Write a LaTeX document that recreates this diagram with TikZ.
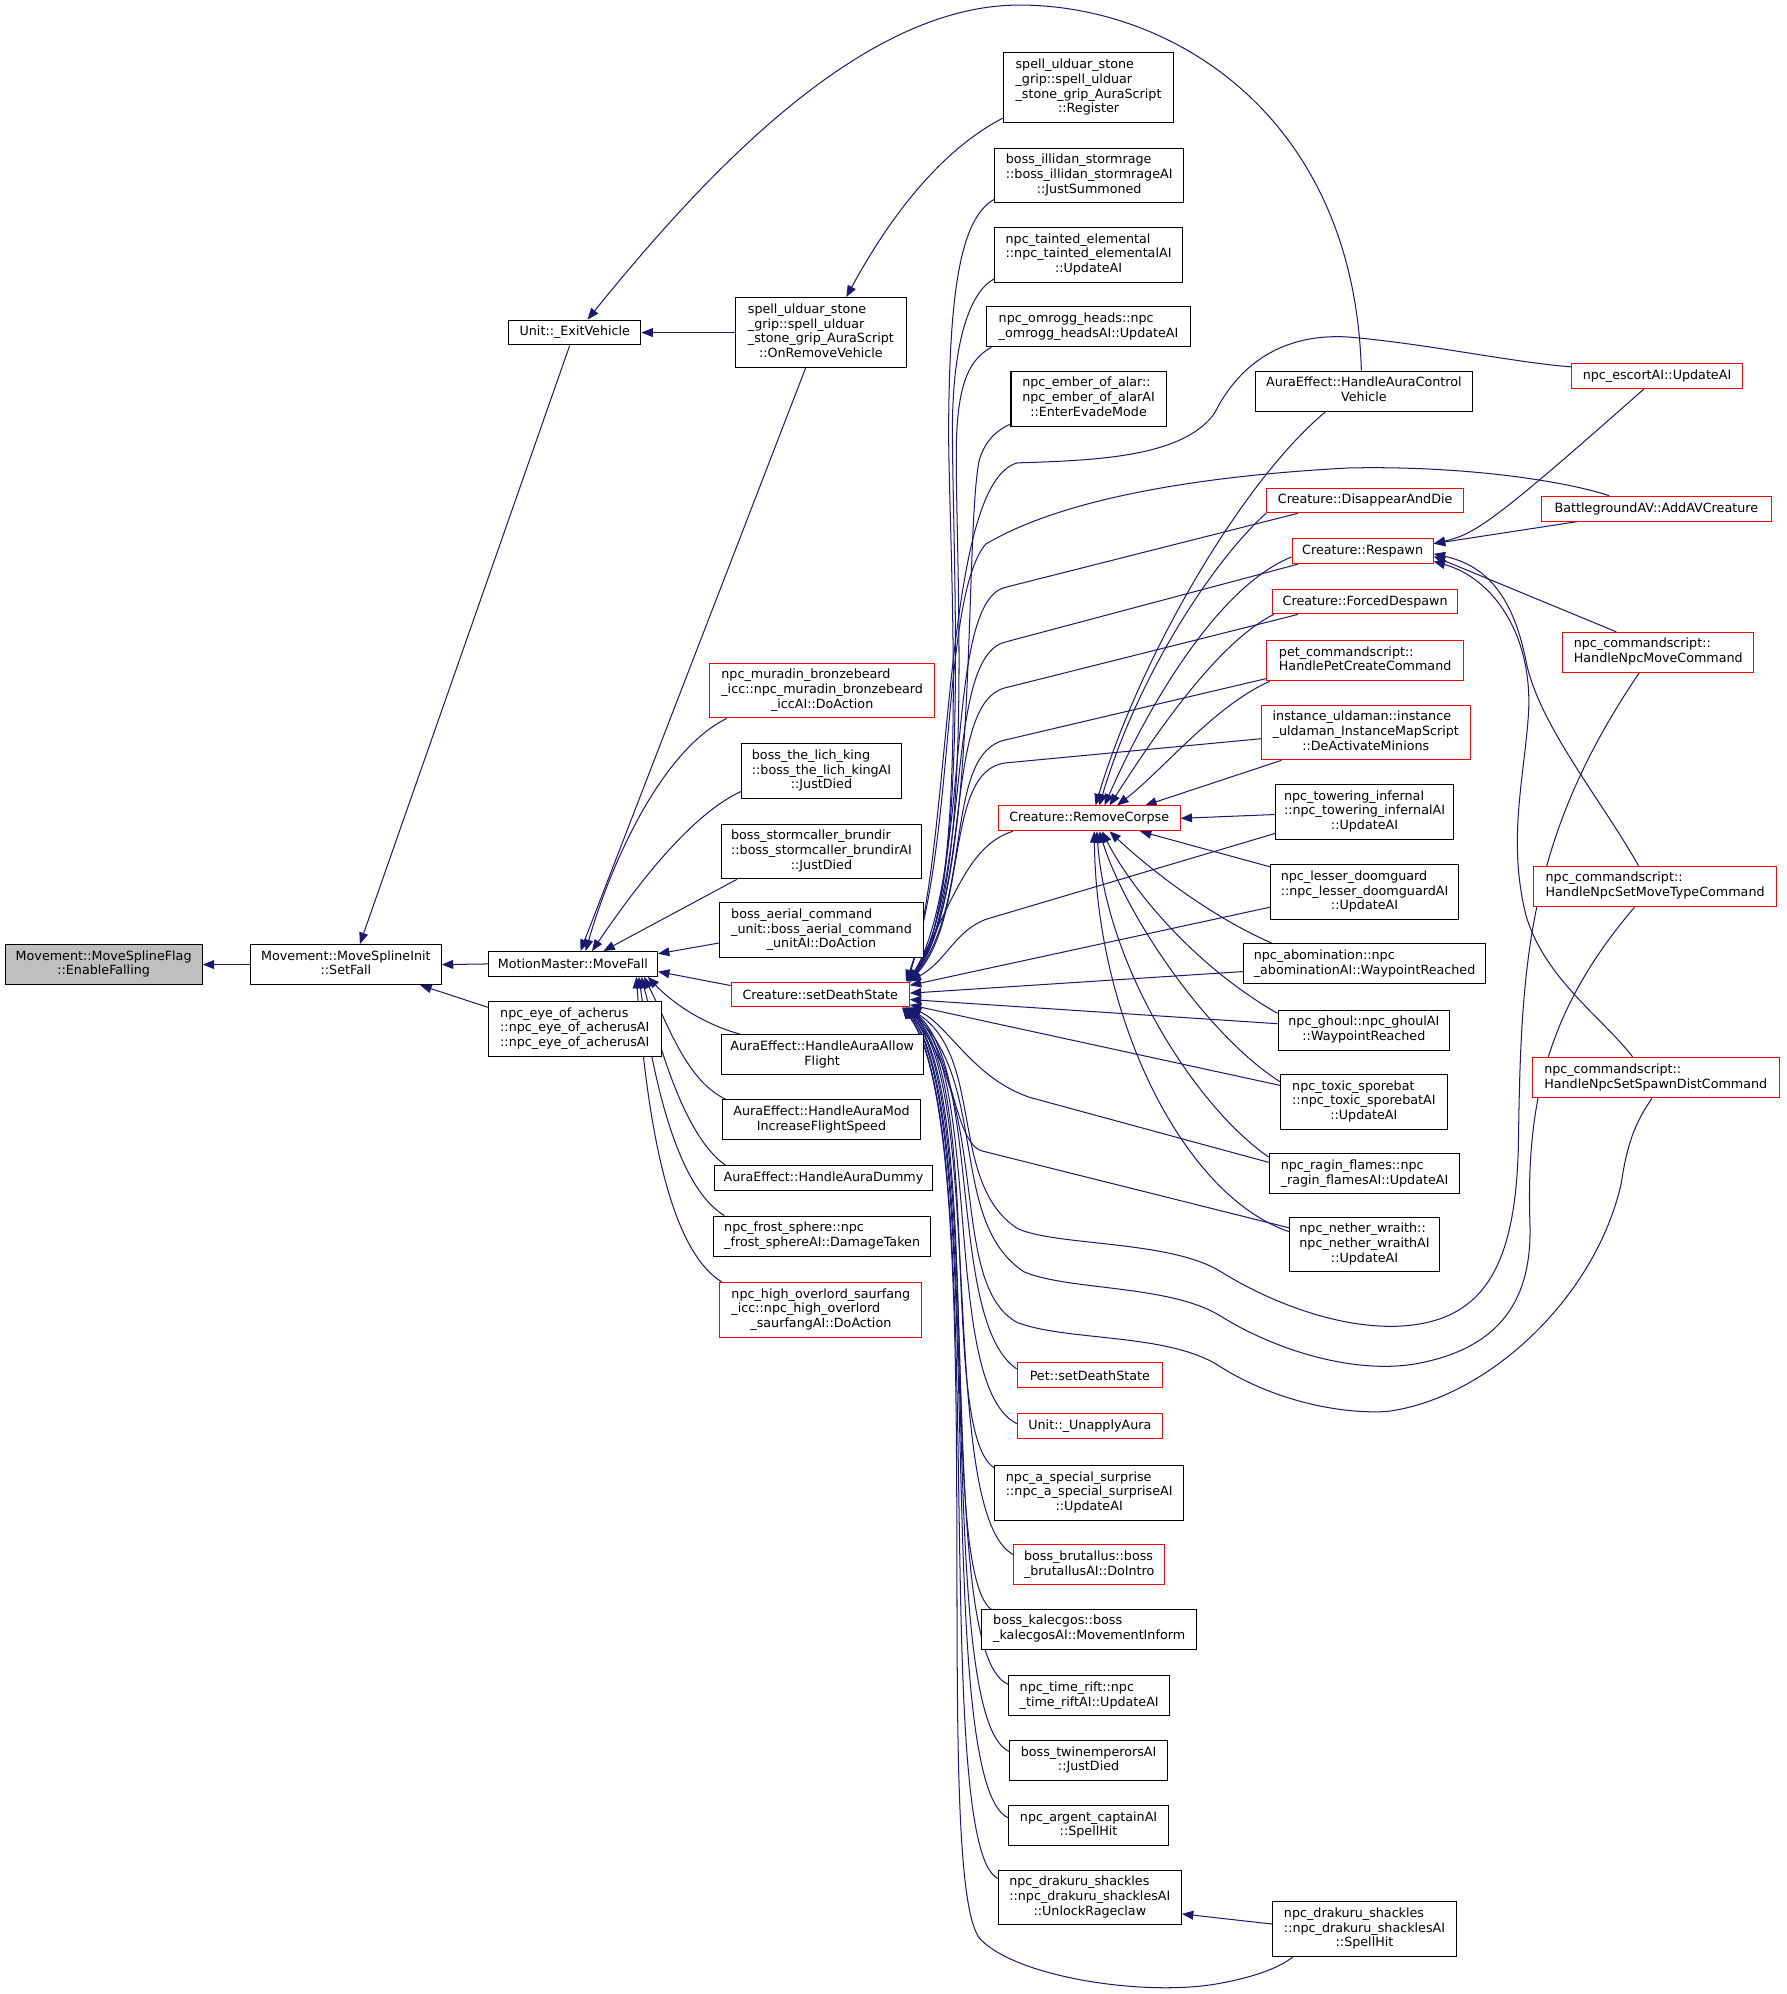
\documentclass[tikz,border=0pt]{standalone}
\usepackage{fontspec}
\setmainfont{DejaVu Sans}
\usetikzlibrary{arrows.meta}
\definecolor{DxEdge}{RGB}{25,25,112}
\definecolor{DxRed}{RGB}{255,0,0}
\definecolor{DxGray}{RGB}{191,191,191}
\pgfdeclarelayer{edges}
\pgfsetlayers{edges,main}
\newcommand{\lns}[1]{\begin{tabular}{@{}l@{}}#1\end{tabular}}
\newcommand{\cln}[1]{\multicolumn{1}{@{}c@{}}{#1}}

\begin{document}
\begin{tikzpicture}[x=1pt, y=-1pt,
          fn/.style={rectangle, draw=black, fill=white, line width=0.8pt,
                     inner sep=0pt, font=\fontsize{10}{11.6}\selectfont},
          fnr/.style={fn, draw=DxRed},
          h1/.style={minimum height=19.5pt},
          h2/.style={minimum height=31.5pt},
          h3/.style={minimum height=43pt},
          h4/.style={minimum height=55pt},
          call/.style={draw=DxEdge, line width=0.8pt, {Triangle[length=9pt, width=7pt]}-}
        ]
        \useasboundingbox (0,0) rectangle (1405,1568);

        % columns 0 - 2
        \node[fn, h2, fill=DxGray, minimum width=155pt] (root) at (81.5, 758.5)
              {\lns{Movement::MoveSplineFlag\\ \cln{::EnableFalling}}};
        \node[fn, h2, minimum width=150pt] (setfall) at (272, 758.5)
              {\lns{Movement::MoveSplineInit\\ \cln{::SetFall}}};
        \node[fn, h1, minimum width=104pt] (exitveh) at (452, 261.5) {Unit::\_ExitVehicle};
        \node[fn, h1, minimum width=133pt] (movefall) at (450.5, 758) {MotionMaster::MoveFall};
        \node[fn, h3, minimum width=136pt] (eyeach) at (452, 809)
              {\lns{npc\_eye\_of\_acherus\\::npc\_eye\_of\_acherusAI\\ \cln{::npc\_eye\_of\_acherusAI}}};

        % column 3
        \node[fn, h4, minimum width=135pt] (onremove) at (645.5, 261.5)
              {\lns{spell\_ulduar\_stone\\\_grip::spell\_ulduar\\\_stone\_grip\_AuraScript\\ \cln{::OnRemoveVehicle}}};
        \node[fnr, h3, minimum width=177pt] (muradin) at (646.5, 543)
              {\lns{npc\_muradin\_bronzebeard\\\_icc::npc\_muradin\_bronzebeard\\ \cln{\_iccAI::DoAction}}};
        \node[fn, h3, minimum width=126pt] (lichking) at (646, 606.5)
              {\lns{boss\_the\_lich\_king\\::boss\_the\_lich\_kingAI\\ \cln{::JustDied}}};
        \node[fn, h3, minimum width=158pt] (brundir) at (646, 669.5)
              {\lns{boss\_stormcaller\_brundir\\::boss\_stormcaller\_brundirAI\\ \cln{::JustDied}}};
        \node[fn, h3, minimum width=160pt] (aerial) at (646, 731.5)
              {\lns{boss\_aerial\_command\\\_unit::boss\_aerial\_command\\ \cln{\_unitAI::DoAction}}};
        \node[fnr, h1, minimum width=140pt] (sds) at (645, 782) {Creature::setDeathState};
        \node[fn, h2, minimum width=159pt] (allowfl) at (646.5, 829.5)
              {\lns{AuraEffect::HandleAuraAllow\\ \cln{Flight}}};
        \node[fn, h2, minimum width=156pt] (modinc) at (646, 880.5)
              {\lns{AuraEffect::HandleAuraMod\\ \cln{IncreaseFlightSpeed}}};
        \node[fn, h1, minimum width=171pt] (dummy) at (647.5, 926.5) {AuraEffect::HandleAuraDummy};
        \node[fn, h2, minimum width=171pt] (frost) at (646.5, 972)
              {\lns{npc\_frost\_sphere::npc\\ \cln{\_frost\_sphereAI::DamageTaken}}};
        \node[fnr, h3, minimum width=159pt] (saurfang) at (645.5, 1030)
              {\lns{npc\_high\_overlord\_saurfang\\\_icc::npc\_high\_overlord\\ \cln{\_saurfangAI::DoAction}}};

        % column 4
        \node[fn, h4, minimum width=134pt] (register) at (856, 69)
              {\lns{spell\_ulduar\_stone\\\_grip::spell\_ulduar\\\_stone\_grip\_AuraScript\\ \cln{::Register}}};
        \node[fn, h3, minimum width=149pt] (summoned) at (856.5, 138)
              {\lns{boss\_illidan\_stormrage\\::boss\_illidan\_stormrageAI\\ \cln{::JustSummoned}}};
        \node[fn, h3, minimum width=148pt] (tainted) at (856, 200.5)
              {\lns{npc\_tainted\_elemental\\::npc\_tainted\_elementalAI\\ \cln{::UpdateAI}}};
        \node[fn, h2, minimum width=160pt] (omrogg) at (856, 257)
              {\lns{npc\_omrogg\_heads::npc\\ \cln{\_omrogg\_headsAI::UpdateAI}}};
        \node[fn, h3, minimum width=122pt] (ember) at (856, 313.5)
              {\lns{npc\_ember\_of\_alar::\\npc\_ember\_of\_alarAI\\ \cln{::EnterEvadeMode}}};
        \node[fnr, h1, minimum width=143pt] (rmcorpse) at (856.5, 643.5) {Creature::RemoveCorpse};
        \node[fnr, h1, minimum width=114pt] (petsds) at (857, 1081.5) {Pet::setDeathState};
        \node[fnr, h1, minimum width=114pt] (unapply) at (857, 1121.5) {Unit::\_UnapplyAura};
        \node[fn, h3, minimum width=149pt] (surprise) at (856.5, 1174)
              {\lns{npc\_a\_special\_surprise\\::npc\_a\_special\_surpriseAI\\ \cln{::UpdateAI}}};
        \node[fnr, h2, minimum width=119pt] (brutallus) at (856.5, 1230.5)
              {\lns{boss\_brutallus::boss\\ \cln{\_brutallusAI::DoIntro}}};
        \node[fn, h2, minimum width=169pt] (kalecgos) at (856.5, 1281)
              {\lns{boss\_kalecgos::boss\\ \cln{\_kalecgosAI::MovementInform}}};
        \node[fn, h2, minimum width=127pt] (timerift) at (856.5, 1333.5)
              {\lns{npc\_time\_rift::npc\\ \cln{\_time\_riftAI::UpdateAI}}};
        \node[fn, h2, minimum width=124pt] (twinemp) at (856, 1384.5)
              {\lns{boss\_twinemperorsAI\\ \cln{::JustDied}}};
        \node[fn, h2, minimum width=126pt] (argent) at (856, 1435.5)
              {\lns{npc\_argent\_captainAI\\ \cln{::SpellHit}}};
        \node[fn, h3, minimum width=144pt] (rageclaw) at (857, 1492)
              {\lns{npc\_drakuru\_shackles\\::npc\_drakuru\_shacklesAI\\ \cln{::UnlockRageclaw}}};

        % column 5
        \node[fn, h2, minimum width=171pt] (ctrlveh) at (1072.5, 307.5)
              {\lns{AuraEffect::HandleAuraControl\\ \cln{Vehicle}}};
        \node[fnr, h1, minimum width=155pt] (disappear) at (1073.5, 393.5) {Creature::DisappearAndDie};
        \node[fnr, h1, minimum width=111pt] (respawn) at (1071.5, 433.5) {Creature::Respawn};
        \node[fnr, h1, minimum width=145pt] (forced) at (1073.5, 473) {Creature::ForcedDespawn};
        \node[fnr, h2, minimum width=155pt] (petcmd) at (1073.5, 519.5)
              {\lns{pet\_commandscript::\\ \cln{HandlePetCreateCommand}}};
        \node[fnr, h3, minimum width=164pt] (uldaman) at (1074, 576)
              {\lns{instance\_uldaman::instance\\\_uldaman\_InstanceMapScript\\ \cln{::DeActivateMinions}}};
        \node[fn, h3, minimum width=140pt] (towering) at (1073, 638.5)
              {\lns{npc\_towering\_infernal\\::npc\_towering\_infernalAI\\ \cln{::UpdateAI}}};
        \node[fn, h3, minimum width=148pt] (doomguard) at (1073, 701.5)
              {\lns{npc\_lesser\_doomguard\\::npc\_lesser\_doomguardAI\\ \cln{::UpdateAI}}};
        \node[fn, h2, minimum width=190pt] (abom) at (1073, 758)
              {\lns{npc\_abomination::npc\\ \cln{\_abominationAI::WaypointReached}}};
        \node[fn, h2, minimum width=135pt] (ghoul) at (1072.5, 810)
              {\lns{npc\_ghoul::npc\_ghoulAI\\ \cln{::WaypointReached}}};
        \node[fn, h3, minimum width=131pt] (sporebat) at (1072.5, 866.5)
              {\lns{npc\_toxic\_sporebat\\::npc\_toxic\_sporebatAI\\ \cln{::UpdateAI}}};
        \node[fn, h2, minimum width=150pt] (ragin) at (1073, 923)
              {\lns{npc\_ragin\_flames::npc\\ \cln{\_ragin\_flamesAI::UpdateAI}}};
        \node[fn, h3, minimum width=118pt] (wraith) at (1073, 978.5)
              {\lns{npc\_nether\_wraith::\\npc\_nether\_wraithAI\\ \cln{::UpdateAI}}};
        \node[fn, h3, minimum width=144pt] (spellhit) at (1073, 1517)
              {\lns{npc\_drakuru\_shackles\\::npc\_drakuru\_shacklesAI\\ \cln{::SpellHit}}};

        % column 6
        \node[fnr, h1, minimum width=134pt] (escort) at (1303, 295.5) {npc\_escortAI::UpdateAI};
        \node[fnr, h1, minimum width=181pt] (bgav) at (1302.5, 400) {BattlegroundAV::AddAVCreature};
        \node[fnr, h2, minimum width=150pt] (npcmove) at (1304, 513)
              {\lns{npc\_commandscript::\\ \cln{HandleNpcMoveCommand}}};
        \node[fnr, h2, minimum width=191pt] (movetype) at (1301.5, 697)
              {\lns{npc\_commandscript::\\ \cln{HandleNpcSetMoveTypeCommand}}};
        \node[fnr, h2, minimum width=194pt] (spawndist) at (1302, 847.5)
              {\lns{npc\_commandscript::\\ \cln{HandleNpcSetSpawnDistCommand}}};

        \begin{pgfonlayer}{edges}
        % left part
        \draw[call] (root.east) -- (setfall.west);
        \draw[call] ([xshift=11pt]setfall.north) -- ([xshift=-4pt]exitveh.south);
        \draw[call] (setfall.east) -- (movefall.west);
        \draw[call] ([xshift=-17pt]setfall.south east) -- ([yshift=-5pt]eyeach.north west);
        \draw[call] (exitveh.east) -- (onremove.west);
        \draw[call] ([xshift=10pt]exitveh.north) .. controls (560,130) and (680,5) .. (800,4)
              .. controls (920,3) and (1065,90) .. ([xshift=-2pt]ctrlveh.north);
        \draw[call] ([xshift=20pt]onremove.north) .. controls (700,170) and (740,118)
              .. ([yshift=4pt]register.south west);

        % callers of MotionMaster::MoveFall
        \draw[call] ([xshift=6pt]movefall.north) -- ([xshift=-12pt]onremove.south);
        \draw[call] ([xshift=10pt]movefall.north) .. controls (480,680) and (520,590)
              .. ([xshift=14pt]muradin.south west);
        \draw[call] ([xshift=15pt]movefall.north) .. controls (505,690) and (545,640)
              .. ([yshift=6pt]lichking.south west);
        \draw[call] ([xshift=24pt]movefall.north) -- ([xshift=13pt]brundir.south west);
        \draw[call] ([yshift=8pt]movefall.east) -- ([yshift=-10pt]aerial.west);
        \draw[call] ([yshift=-6pt]movefall.east) -- ([yshift=7pt]sds.west);
        \draw[call] ([xshift=-8pt]movefall.south east) .. controls (530,790) and (555,806)
              .. ([xshift=16pt]allowfl.north west);
        \draw[call] ([xshift=-11pt]movefall.south east) .. controls (525,805) and (540,850)
              .. ([xshift=3pt]modinc.north west);
        \draw[call] ([xshift=-13pt]movefall.south east) .. controls (520,830) and (540,895)
              .. ([xshift=9pt]dummy.north west);
        \draw[call] ([xshift=-15pt]movefall.south east) .. controls (515,860) and (535,935)
              .. ([xshift=9pt]frost.north west);
        \draw[call] ([xshift=-17pt]movefall.south east) .. controls (510,900) and (530,985)
              .. ([xshift=2pt]saurfang.north west);

        % callers of Creature::setDeathState
        \draw[call] (sds.north east) .. controls (765,700) and (745,420) .. (746,330)
              .. controls (747,230) and (755,172) .. ([yshift=3pt]summoned.south west);
        \draw[call] ([xshift=-1pt]sds.north east) .. controls (765,705) and (748,420) .. (749,330)
              .. controls (750,270) and (762,230) .. ([yshift=3pt]tainted.south west);
        \draw[call] ([xshift=-1pt]sds.north east) .. controls (768,705) and (751,440) .. (752,350)
              .. controls (753,300) and (763,282) .. ([xshift=4pt]omrogg.south west);
        \draw[call] ([xshift=-2pt]sds.north east) .. controls (770,710) and (758,420) .. (770,362)
              .. controls (775,345) and (785,338) .. ([yshift=2pt]ember.south west);
        \draw[call] ([xshift=-2pt]sds.north east) .. controls (750,660) and (740,380) .. (800,364)
              .. controls (860,362) and (930,360) .. (955,325)
              .. controls (975,285) and (1010,262) .. (1060,265)
              .. controls (1120,270) and (1190,285) .. ([yshift=7pt]escort.west);
        \draw[call] ([xshift=-3pt]sds.north east) .. controls (752,660) and (740,470) .. (775,428)
              .. controls (830,395) and (930,375) .. (1060,368)
              .. controls (1150,366) and (1230,378) .. ([xshift=-37pt]bgav.north);
        \draw[call] (sds.north east) .. controls (765,680) and (742,475) .. (790,462)
              -- ([xshift=25pt]disappear.south west);
        \draw[call] (sds.north east) .. controls (765,690) and (742,518) .. (790,505)
              -- ([xshift=5pt]respawn.south west);
        \draw[call] (sds.north east) .. controls (765,700) and (742,554) .. (790,541)
              -- ([xshift=20pt]forced.south west);
        \draw[call] (sds.north east) .. controls (765,710) and (742,593) .. (790,582)
              -- ([yshift=2pt]petcmd.south west);
        \draw[call] (sds.north east) .. controls (762,720) and (742,607) .. (790,600)
              -- ([yshift=17pt]uldaman.south west);
        \draw[call] ([xshift=-1pt]sds.north east) .. controls (750,710) and (760,665)
              .. ([xshift=12pt]rmcorpse.south west);
        \draw[call] (sds.north east) .. controls (745,755) and (750,733) .. (775,723)
              -- ([yshift=5pt]towering.south west);
        \draw[call] ([yshift=-3pt]sds.north east) -- ([yshift=10pt]doomguard.south west);
        \draw[call] ([yshift=1pt]sds.east) -- ([yshift=-6pt]abom.west);
        \draw[call] ([yshift=-4pt]sds.east) -- ([yshift=5pt]ghoul.west);
        \draw[call] ([yshift=2pt]sds.south east) -- ([yshift=13pt]sporebat.west);
        \draw[call] (sds.south east) .. controls (745,805) and (765,848) .. (810,863)
              -- ([yshift=9pt]ragin.west);
        \draw[call] (sds.south east) .. controls (750,830) and (750,898) .. (772,905)
              -- ([yshift=13pt]wraith.west);
        \draw[call] ([xshift=-2pt]sds.south east) .. controls (775,830) and (745,930) .. (800,966)
              .. controls (830,980) and (920,975) .. (960,1000)
              .. controls (1000,1025) and (1060,1048) .. (1110,1042)
              .. controls (1170,1035) and (1192,990) .. (1194,900)
              .. controls (1196,760) and (1200,660) .. ([xshift=-15pt]npcmove.south);
        \draw[call] ([xshift=-3pt]sds.south east) .. controls (778,850) and (745,960) .. (805,1000)
              .. controls (840,1015) and (920,1010) .. (960,1035)
              .. controls (1000,1060) and (1060,1080) .. (1110,1073)
              .. controls (1190,1060) and (1205,1010) .. (1203,960)
              .. controls (1200,860) and (1220,790) .. ([xshift=-16pt]movetype.south);
        \draw[call] ([xshift=-4pt]sds.south east) .. controls (780,870) and (745,1010) .. (800,1040)
              .. controls (840,1055) and (920,1048) .. (960,1075)
              .. controls (1000,1100) and (1050,1112) .. (1090,1110)
              .. controls (1170,1100) and (1255,1020) .. (1275,930)
              .. controls (1280,895) and (1288,880) .. ([xshift=-3pt]spawndist.south);
        \draw[call] ([xshift=-1pt]sds.south east) .. controls (772,840) and (745,1040)
              .. ([yshift=5pt]petsds.west);
        \draw[call] ([xshift=-2pt]sds.south east) .. controls (773,845) and (740,1090)
              .. ([yshift=2pt]unapply.west);
        \draw[call] ([xshift=-3pt]sds.south east) .. controls (774,850) and (738,1125)
              .. ([yshift=-2pt]surprise.north west);
        \draw[call] ([xshift=-3pt]sds.south east) .. controls (775,855) and (737,1190)
              .. ([yshift=-8pt]brutallus.north west);
        \draw[call] ([xshift=-4pt]sds.south east) .. controls (776,860) and (735,1245)
              .. ([xshift=10pt,yshift=-2pt]kalecgos.north west);
        \draw[call] ([xshift=-4pt]sds.south east) .. controls (777,865) and (733,1300)
              .. ([yshift=-7pt]timerift.north west);
        \draw[call] ([xshift=-5pt]sds.south east) .. controls (778,870) and (732,1350)
              .. ([yshift=-9pt]twinemp.north west);
        \draw[call] ([xshift=-5pt]sds.south east) .. controls (779,875) and (731,1400)
              .. ([yshift=-10pt]argent.north west);
        \draw[call] ([xshift=-6pt]sds.south east) .. controls (780,880) and (730,1450)
              .. ([yshift=-7pt]rageclaw.north west);
        \draw[call] ([xshift=-6pt]sds.south east) .. controls (781,885) and (730,1480) .. (771,1525)
              .. controls (800,1555) and (900,1570) .. (957,1560)
              .. controls (985,1555) and (1005,1548) .. ([xshift=16pt]spellhit.south west);

        % callers of Creature::Respawn
        \draw[call] ([yshift=6pt]respawn.east) .. controls (1160,420) and (1175,410)
              .. ([xshift=-10pt]escort.south);
        \draw[call] ([yshift=6pt]respawn.east) -- ([xshift=-62pt]bgav.south);
        \draw[call] ([yshift=-4pt]respawn.east) -- ([xshift=-33pt]npcmove.north);
        \draw[call] ([yshift=-2pt]respawn.east) .. controls (1170,445) and (1190,470) .. (1200,520)
              .. controls (1210,570) and (1260,630) .. ([xshift=-13pt]movetype.north);
        \draw[call] ([yshift=-8pt]respawn.east) .. controls (1175,455) and (1205,500) .. (1202,560)
              .. controls (1199,610) and (1185,660) .. (1200,720)
              .. controls (1215,770) and (1260,800) .. ([xshift=-18pt]spawndist.north);

        % callers of Creature::RemoveCorpse
        \draw[call] ([xshift=5pt]rmcorpse.north) .. controls (895,520) and (975,380)
              .. ([xshift=-30pt]ctrlveh.south);
        \draw[call] ([xshift=8pt]rmcorpse.north) .. controls (895,530) and (955,440)
              .. (disappear.south west);
        \draw[call] ([xshift=12pt]rmcorpse.north) .. controls (905,550) and (960,460)
              .. ([yshift=-4.5pt]respawn.west);
        \draw[call] ([xshift=16pt]rmcorpse.north) .. controls (910,575) and (958,505)
              .. ([xshift=1pt]forced.south west);
        \draw[call] ([xshift=22pt]rmcorpse.north) .. controls (915,605) and (955,555)
              .. ([xshift=3pt]petcmd.south west);
        \draw[call] ([xshift=44pt]rmcorpse.north) -- ([xshift=16pt]uldaman.south west);
        \draw[call] (rmcorpse.east) -- ([yshift=-2pt]towering.west);
        \draw[call] ([xshift=-32pt]rmcorpse.south east) -- ([yshift=-2pt]doomguard.north west);
        \draw[call] ([xshift=16pt]rmcorpse.south) .. controls (900,680) and (950,720)
              .. ([xshift=23pt]abom.north west);
        \draw[call] ([xshift=10pt]rmcorpse.south) .. controls (890,700) and (940,760)
              .. ([yshift=-3pt]ghoul.north west);
        \draw[call] ([xshift=8pt]rmcorpse.south) .. controls (885,720) and (950,815)
              .. ([yshift=-6pt]sporebat.north west);
        \draw[call] ([xshift=6pt]rmcorpse.south) .. controls (870,760) and (940,870)
              .. ([yshift=-3pt]ragin.north west);
        \draw[call] ([xshift=4pt]rmcorpse.south) .. controls (862,800) and (930,940)
              .. ([yshift=10pt]wraith.west);

        \draw[call] ([yshift=-13pt]rageclaw.east) -- ([yshift=4pt]spellhit.west);
        \end{pgfonlayer}
      \end{tikzpicture}
\end{document}
